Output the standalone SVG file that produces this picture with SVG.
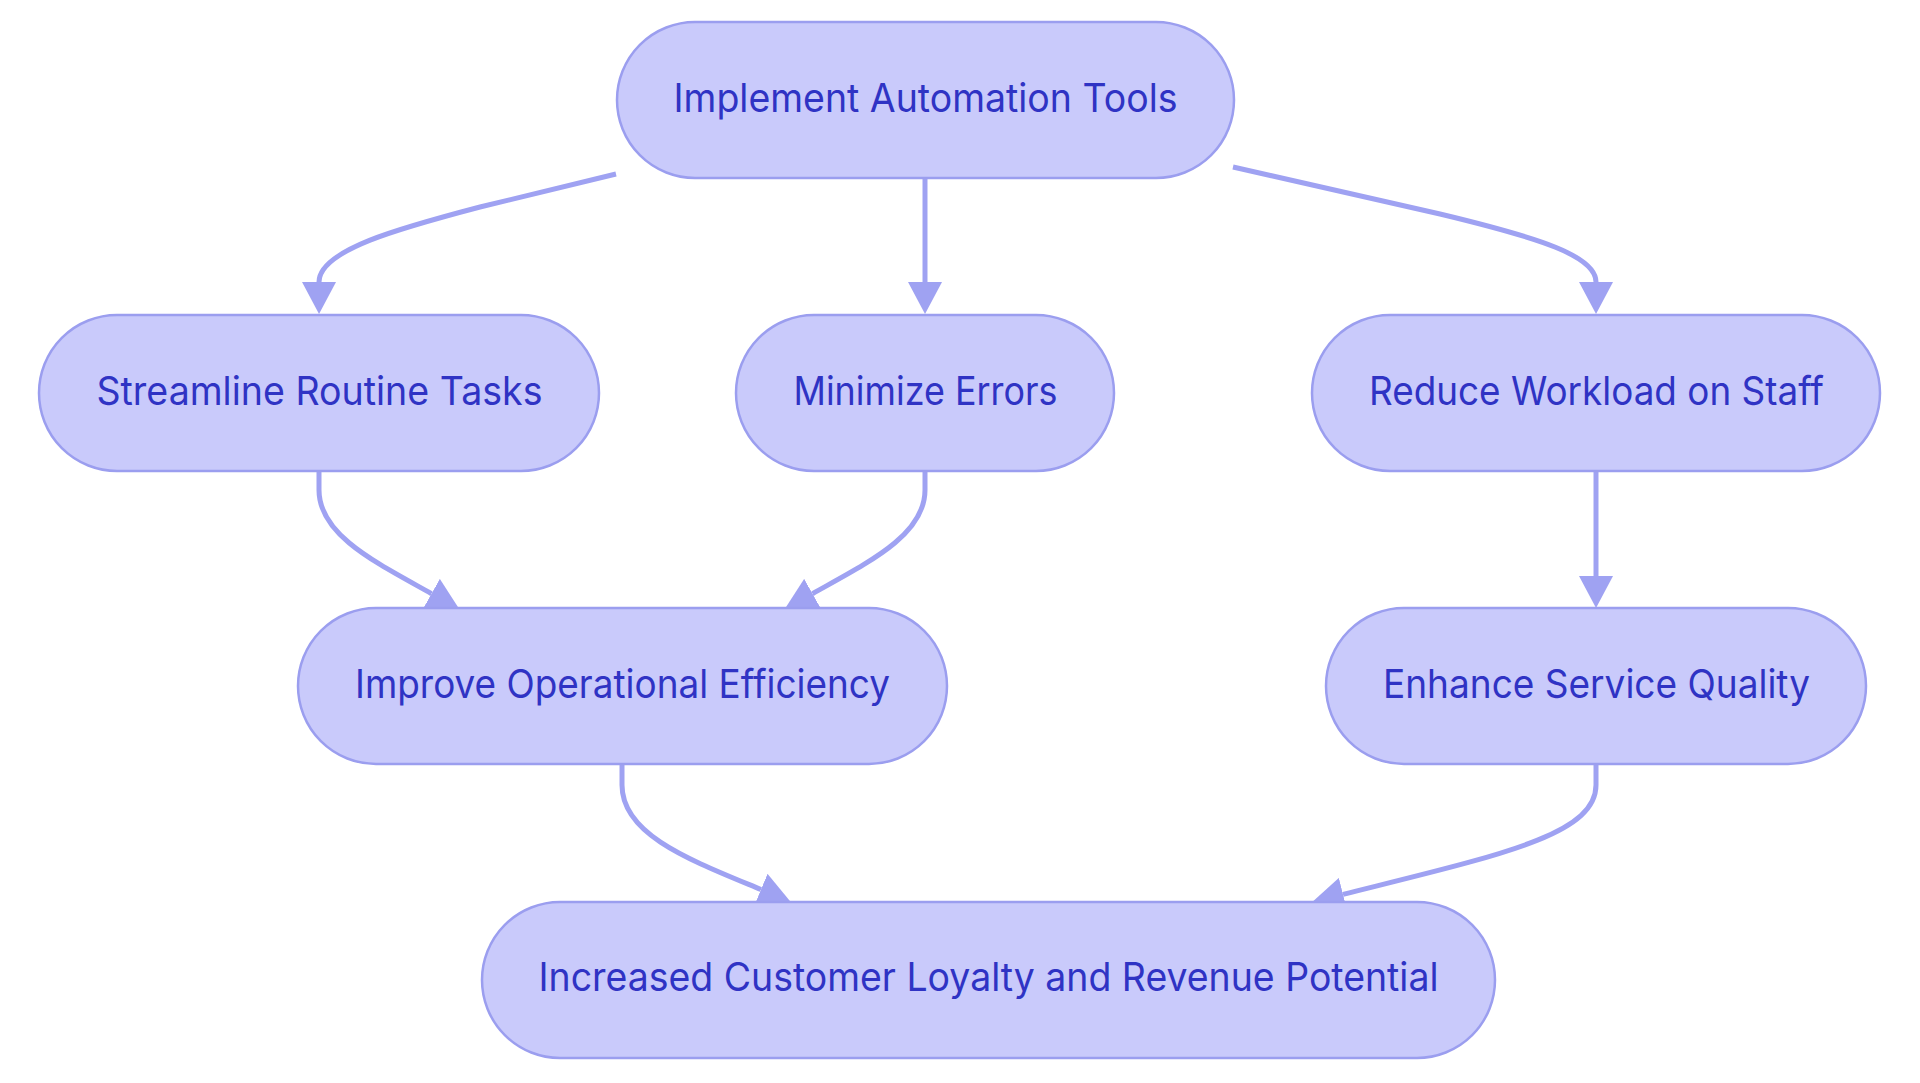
<svg xmlns="http://www.w3.org/2000/svg" width="1920" height="1083" viewBox="0 0 1920 1083">
  <defs>
    <marker id="arrow" markerUnits="userSpaceOnUse" markerWidth="32" markerHeight="34" viewBox="0 0 32 34" refX="0" refY="17" orient="auto">
      <path d="M0,0 L32,17 L0,34 z" fill="#9FA2F2"/>
    </marker>
    <style>
      .edge { fill: none; stroke: #9FA2F2; stroke-width: 5; marker-end: url(#arrow); }
      .node rect { fill: #C9CAFB; stroke: #9B9EEF; stroke-width: 2.5; }
      .node text { font-family: Inter, "Noto Sans", "Liberation Sans", sans-serif; font-size: 39px; fill: #2F33C4; text-anchor: middle; }
    </style>
  </defs>
  <rect width="1920" height="1083" fill="#FFFFFF"/>
  <g id="connectors">
    <path class="edge" d="M616,174 L480,207 C400,228 319,250 319,282"/>
    <path class="edge" d="M925,178 L925,282"/>
    <path class="edge" d="M1233,167 L1440,214 C1540,238 1596,256 1596,282"/>
    <path class="edge" d="M319,471 L319,490 C319,535 375,562 431.5,593.7"/>
    <path class="edge" d="M925,471 L925,490 C925,535 869,562 812.5,593.7"/>
    <path class="edge" d="M1596,471 L1596,576"/>
    <path class="edge" d="M622,764 L622,785 C622,835 690,860 761,889.5"/>
    <path class="edge" d="M1596,764 L1596,785 C1596,835 1500,855 1343,894.4"/>
  </g>
  <g id="node-implement" class="node">
    <rect x="617" y="22" width="617" height="156" rx="78" ry="78"/>
    <text x="925.5" y="112" textLength="504" lengthAdjust="spacingAndGlyphs">Implement Automation Tools</text>
  </g>
  <g id="node-streamline" class="node">
    <rect x="39" y="315" width="560" height="156" rx="78" ry="78"/>
    <text x="319.5" y="405" textLength="446" lengthAdjust="spacingAndGlyphs">Streamline Routine Tasks</text>
  </g>
  <g id="node-minimize" class="node">
    <rect x="736" y="315" width="378" height="156" rx="78" ry="78"/>
    <text x="925.5" y="405" textLength="264" lengthAdjust="spacingAndGlyphs">Minimize Errors</text>
  </g>
  <g id="node-reduce" class="node">
    <rect x="1312" y="315" width="568" height="156" rx="78" ry="78"/>
    <text x="1596.5" y="405" textLength="455" lengthAdjust="spacingAndGlyphs">Reduce Workload on Staff</text>
  </g>
  <g id="node-improve" class="node">
    <rect x="298" y="608" width="649" height="156" rx="78" ry="78"/>
    <text x="622.5" y="698" textLength="535" lengthAdjust="spacingAndGlyphs">Improve Operational Efficiency</text>
  </g>
  <g id="node-enhance" class="node">
    <rect x="1326" y="608" width="540" height="156" rx="78" ry="78"/>
    <text x="1596.5" y="698" textLength="427" lengthAdjust="spacingAndGlyphs">Enhance Service Quality</text>
  </g>
  <g id="node-increased" class="node">
    <rect x="482" y="902" width="1013" height="156" rx="78" ry="78"/>
    <text x="988.5" y="991" textLength="900" lengthAdjust="spacingAndGlyphs">Increased Customer Loyalty and Revenue Potential</text>
  </g>
</svg>
